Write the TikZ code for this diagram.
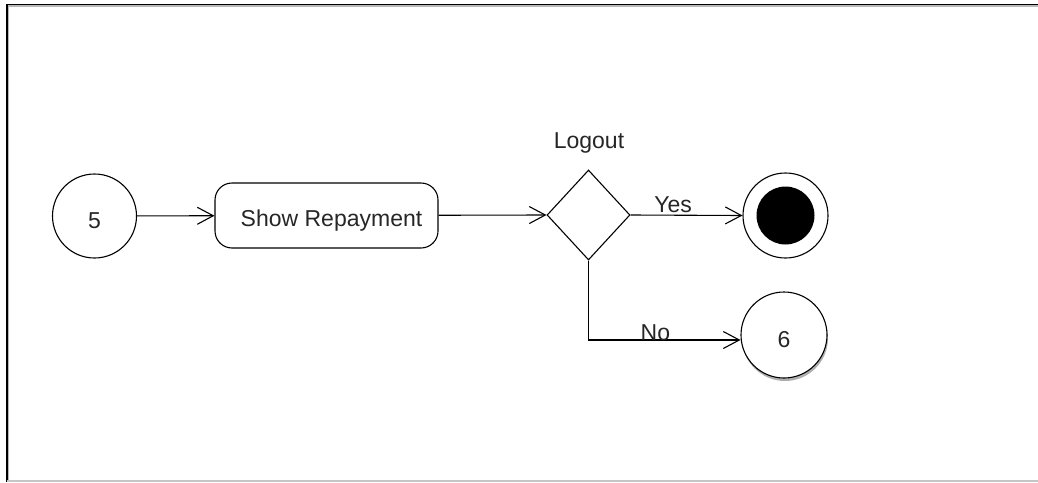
\documentclass[tikz,border=0pt]{standalone}
\usepackage{fontspec}
\setmainfont{Liberation Sans}
\usetikzlibrary{arrows.meta,shapes.geometric,shadows}
\newcommand{\lowr}[1]{\raisebox{-5pt}[\height][\depth]{#1}}
\tikzset{
  base/.style={draw=black, line width=1.1pt, text=black!85, font=\fontsize{23}{27}\selectfont},
  statecirc/.style={base, circle, minimum size=84pt, inner sep=0pt},
  actbox/.style={base, rounded corners=17pt, minimum width=223pt, minimum height=65pt, inner sep=0pt},
  decision/.style={base, diamond, minimum width=83pt, minimum height=90pt, inner sep=0pt},
  conn/.style={draw=black, line width=1.1pt, -{Straight Barb[length=16pt,width=17pt,line width=1.1pt]}},
  lbl/.style={text=black!85, font=\fontsize{23}{27}\selectfont, inner sep=0pt}
}
\begin{document}
\begin{tikzpicture}[x=1pt,y=-1pt]
\useasboundingbox (0,0) rectangle (1038,482);
% frame
\draw[gray!55, line width=1.2pt] (8.4,482) -- (8.4,5.9) -- (1038,5.9);
\draw[black, line width=1.3pt] (7,482) -- (7,4.6) -- (1038,4.6);
\draw[gray!45, line width=1.5pt] (7,481.2) -- (1038,481.2);
% nodes
\node[statecirc] (c5) at (94.5,216) {\lowr{5}};
\node[actbox] (show) at (326.5,215.5) {\hspace{10pt}\lowr{Show Repayment}};
\node[decision] (dia) at (588.5,215) {};
\node[lbl] (logout) at (589,143) {Logout};
\node[base, circle, minimum size=85pt, inner sep=0pt] (fin) at (785.5,215.5) {};
\node[circle, fill=black, minimum size=58pt, inner sep=0pt] (finin) at (fin) {};
\node[statecirc, minimum size=86pt, fill=white, drop shadow={shadow xshift=1pt, shadow yshift=-3pt, fill=black!45, opacity=0.7}] (c6) at (784,335) {\lowr{6}};
% connectors
\draw[conn] (c5) -- (show);
\draw[conn] (show) -- (dia.west);
\draw[conn] (dia.east) -- node[lbl, pos=0.38, yshift=10pt] (yes) {Yes} (fin.west);
\draw[conn] (dia.south) |- node[lbl, pos=0.72, yshift=7pt] (no) {No} ([yshift=-5pt]c6.west);
\end{tikzpicture}
\end{document}
